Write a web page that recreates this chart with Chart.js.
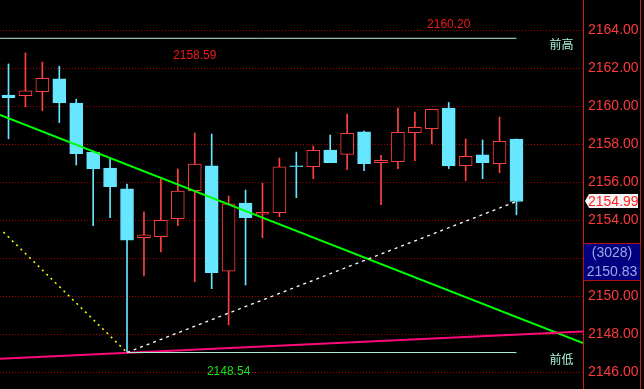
<!DOCTYPE html>
<html>
<head>
<meta charset="utf-8">
<script src="https://cdn.jsdelivr.net/npm/chart.js@4"></script>
<style>
  html, body { margin: 0; padding: 0; background: #000; overflow: hidden; }
  canvas { display: block; }
</style>
</head>
<body>
<canvas id="kChart" width="644" height="389"></canvas>
<script>
// candle index (one bar per slot)
const bars = [0, 1, 2, 3, 4, 5, 6, 7, 8, 9, 10, 11, 12, 13, 14, 15, 16, 17, 18, 19, 20, 21, 22, 23, 24, 25, 26, 27, 28, 29, 30];
const opens  = [2160.59, 2160.56, 2160.77, 2161.44, 2160.17, 2157.59, 2156.75, 2155.65, 2153.08, 2153.14, 2154.08, 2155.56, 2156.86, 2151.32, 2154.91, 2154.32, 2154.40, 2156.86, 2156.82, 2157.70, 2157.47, 2158.65, 2157.03, 2157.08, 2158.61, 2158.82, 2159.91, 2156.87, 2157.44, 2156.98, 2158.28];
const closes = [2160.45, 2160.81, 2161.47, 2160.19, 2157.51, 2156.72, 2155.77, 2152.96, 2153.23, 2154.00, 2155.54, 2156.96, 2151.24, 2154.86, 2154.14, 2154.42, 2156.81, 2156.82, 2157.68, 2157.03, 2158.58, 2156.98, 2157.16, 2158.63, 2158.89, 2159.84, 2156.86, 2157.37, 2157.03, 2158.16, 2154.99];
const highs  = [2162.23, 2162.81, 2162.33, 2162.11, 2160.37, 2157.65, 2157.26, 2155.91, 2154.44, 2156.16, 2156.70, 2158.59, 2158.54, 2155.28, 2155.59, 2155.95, 2157.28, 2157.59, 2157.91, 2158.49, 2159.59, 2158.70, 2157.42, 2159.91, 2159.70, 2159.84, 2160.20, 2158.28, 2158.23, 2159.44, 2158.28];
const lows   = [2158.29, 2159.98, 2159.77, 2159.14, 2156.91, 2153.72, 2154.14, 2147.04, 2151.07, 2152.33, 2153.72, 2150.77, 2150.40, 2148.49, 2150.59, 2153.08, 2154.19, 2155.19, 2156.19, 2157.03, 2156.66, 2156.61, 2154.82, 2156.72, 2157.14, 2158.02, 2156.72, 2156.08, 2156.19, 2156.51, 2154.29];

const yTicks = [2146, 2148, 2150, 2152, 2154, 2156, 2158, 2160, 2162, 2164];

// drawn lines (x = candle index, y = price)
const trendGreen = [{ x: -0.5, y: 2159.54 }, { x: 33.93, y: 2147.54 }];
const trendPink = [{ x: -0.5, y: 2146.71 }, { x: 33.93, y: 2148.15 }];
const dotYellow = [{ x: -0.3, y: 2153.38 }, { x: 7, y: 2147.04 }];
const dotWhite = [{ x: 7, y: 2147.04 }, { x: 30, y: 2154.99 }];
const prevHigh = [{ x: -0.5, y: 2163.58 }, { x: 30, y: 2163.58 }];
const prevLow = [{ x: 7, y: 2147.04 }, { x: 30, y: 2147.04 }];

// text notes
const notes = [
  { text: "2160.20", x: 26, y: 2164.28, color: "#f01818" },
  { text: "2158.59", x: 11, y: 2162.65, color: "#f01818" },
  { text: "2148.54", x: 13, y: 2146.02, color: "#18e018" },
  { text: "前高", x: 32.66, y: 2163.28, color: "#a8f4d4" },
  { text: "前低", x: 32.66, y: 2146.70, color: "#a8f4d4" }
];
const lastPrice = "2154.99";
const volText = "(3028)";
const midPrice = "2150.83";

const UP = "#ff4040";
const DOWN = "#66e6ff";
const isUp = bars.map((b, i) => closes[i] >= opens[i]);

const bgPlugin = {
  id: "bg",
  beforeDraw(chart) {
    const ctx = chart.ctx;
    ctx.save();
    ctx.fillStyle = "#000";
    ctx.fillRect(0, 0, chart.width, chart.height);
    ctx.restore();
  }
};

const overlayPlugin = {
  id: "overlay",
  afterDraw(chart) {
    const ctx = chart.ctx;
    const xs = chart.scales.x, ys = chart.scales.y;
    const area = chart.chartArea;
    ctx.save();
    // axis line + right frame
    ctx.strokeStyle = "#c81e1e";
    ctx.lineWidth = 1;
    ctx.beginPath();
    ctx.moveTo(Math.round(area.right) + 0.5, 0);
    ctx.lineTo(Math.round(area.right) + 0.5, chart.height);
    ctx.moveTo(640.5, 0);
    ctx.lineTo(640.5, chart.height);
    ctx.stroke();

    // notes
    ctx.textAlign = "center";
    ctx.textBaseline = "middle";
    notes.forEach(n => {
      ctx.font = /[0-9]/.test(n.text) ? "12px 'Liberation Sans', Arial" : "12px 'Noto Sans CJK SC'";
      ctx.fillStyle = n.color;
      ctx.fillText(n.text, xs.getPixelForValue(n.x), ys.getPixelForValue(n.y));
    });

    // last price tag
    const py = Math.round(ys.getPixelForValue(closes[closes.length - 1]));
    ctx.fillStyle = "#f4f4f4";
    ctx.beginPath();
    ctx.moveTo(585, py);
    ctx.lineTo(589, py - 7);
    ctx.lineTo(638, py - 7);
    ctx.lineTo(638, py + 7);
    ctx.lineTo(589, py + 7);
    ctx.closePath();
    ctx.fill();
    ctx.fillStyle = "#ff2020";
    ctx.font = "14px 'Liberation Sans', Arial";
    ctx.textAlign = "left";
    ctx.fillText(lastPrice, 588, py + 1);

    // navy info box
    ctx.fillStyle = "#000080";
    ctx.fillRect(584, 243, 56, 37);
    ctx.strokeStyle = "#b01010";
    ctx.strokeRect(583.5, 243.5, 57, 37);
    ctx.fillStyle = "#9aa6e6";
    ctx.textAlign = "center";
    ctx.fillText(volText, 612, 253);
    ctx.fillText(midPrice, 612, 272);
    ctx.restore();
  }
};

function lineSet(data, color, width, dash) {
  return {
    type: "line",
    data: data,
    borderColor: color,
    borderWidth: width,
    borderDash: dash || [],
    pointRadius: 0,
    fill: false,
    tension: 0,
    order: 0
  };
}

const ctx = document.getElementById("kChart").getContext("2d");
new Chart(ctx, {
  type: "bar",
  data: {
    datasets: [
      lineSet(prevHigh, "#a8f4d4", 1),
      lineSet(prevLow, "#a8f4d4", 1),
      lineSet(dotYellow, "#ffff00", 1.5, [2, 4]),
      lineSet(dotWhite, "#ffffff", 1.3, [3, 4]),
      lineSet(trendPink, "#ff0a7a", 2),
      lineSet(trendGreen, "#00ff00", 2),
      {
        data: bars.map((b, i) => ({ x: b, y: [opens[i], closes[i]] })),
        backgroundColor: isUp.map(u => u ? "#000" : DOWN),
        borderColor: isUp.map(u => u ? UP : DOWN),
        borderWidth: 1,
        borderSkipped: false,
        barThickness: 13,
        minBarLength: 1,
        grouped: false,
        order: 2
      },
      {
        data: bars.map((b, i) => ({ x: b, y: [lows[i], highs[i]] })),
        backgroundColor: isUp.map(u => u ? UP : DOWN),
        borderWidth: 0,
        barThickness: 1,
        grouped: false,
        order: 3
      }
    ]
  },
  options: {
    responsive: false,
    devicePixelRatio: 1,
    animation: false,
    layout: { padding: 0 },
    plugins: {
      legend: { display: false },
      tooltip: { enabled: false }
    },
    scales: {
      x: {
        type: "linear",
        display: false,
        offset: false,
        min: -0.502,
        max: 33.93
      },
      y: {
        position: "right",
        min: 2145.12,
        max: 2165.595,
        afterBuildTicks: s => { s.ticks = yTicks.map(v => ({ value: v })); },
        afterFit: s => { s.width = 61; s.paddingTop = 0; s.paddingBottom = 0; },
        grid: { color: "#a80000", lineWidth: 1, drawTicks: false },
        border: { display: false, dash: [1, 2] },
        ticks: {
          color: "#ff3a3a",
          padding: 5,
          font: { family: "'Liberation Sans', Arial", size: 14 },
          callback: v => v.toFixed(2)
        }
      }
    }
  },
  plugins: [bgPlugin, overlayPlugin]
});
</script>
</body>
</html>
